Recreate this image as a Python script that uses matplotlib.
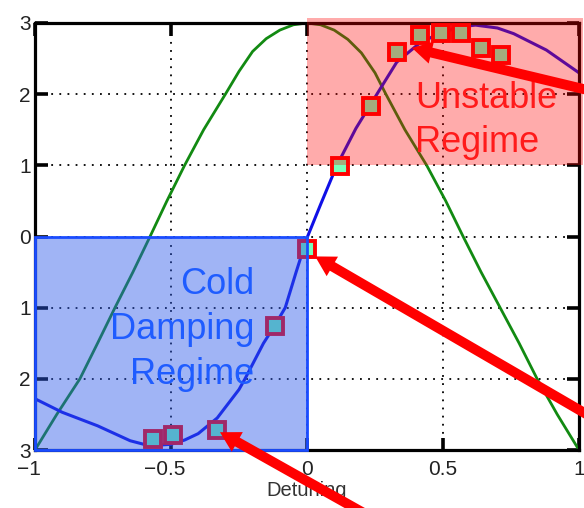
import matplotlib
matplotlib.use("Agg")
import matplotlib.pyplot as plt
from matplotlib.patches import Rectangle

plt.rcParams['font.family'] = ['Liberation Sans', 'DejaVu Sans']

# ---- data ----
green_x = [-1.0, -0.92, -0.835, -0.77, -0.706, -0.64, -0.577, -0.515, -0.45, -0.38,
           -0.3, -0.25, -0.2, -0.15, -0.1, -0.05, 0.0,
           0.05, 0.1, 0.15, 0.2, 0.25, 0.29, 0.36, 0.44, 0.51, 0.574, 0.64, 0.71,
           0.78, 0.846, 0.92, 1.0]
green_y = [-3.0, -2.5, -2.0, -1.5, -1.0, -0.5, 0.0, 0.5, 1.0, 1.5,
           2.0, 2.32, 2.6, 2.78, 2.9, 2.975, 3.0,
           2.975, 2.9, 2.77, 2.58, 2.3, 2.0, 1.5, 1.0, 0.5, 0.0, -0.5, -1.0,
           -1.5, -2.0, -2.5, -3.0]

blue_x = [-1.0, -0.9, -0.77, -0.65, -0.58, -0.5, -0.45, -0.4, -0.33, -0.25, -0.228,
          -0.16, -0.12, -0.08, -0.04, 0.0, 0.05, 0.11, 0.18, 0.257, 0.33, 0.415,
          0.49, 0.57, 0.62, 0.7, 0.76, 0.88, 1.0]
blue_y = [-2.28, -2.47, -2.66, -2.87, -2.94, -2.92, -2.86, -2.77, -2.55, -2.15, -2.0,
          -1.5, -1.26, -1.0, -0.5, -0.02, 0.45, 1.0, 1.52, 2.0, 2.45, 2.72,
          2.86, 2.95, 2.97, 2.93, 2.85, 2.62, 2.3]

meas_x = [-0.566, -0.493, -0.331, -0.118, 0.0, 0.12, 0.235, 0.331, 0.415, 0.493, 0.566, 0.64, 0.713]
meas_y = [-2.84, -2.79, -2.72, -1.26, -0.18, 0.99, 1.83, 2.59, 2.83, 2.86, 2.86, 2.65, 2.55]

xticks = [-1, -0.5, 0, 0.5, 1]
xtick_labels = ['\u22121\u2007', '\u22120.5\u2007', '0', '0.5', '1']
yticks = [-3, -2, -1, 0, 1, 2, 3]
ytick_labels = ['3', '2', '1', '0', '1', '2', '3']

# arrows: tip (data) and tail (figure pixels)
arrow_tips = [(0.386, 2.65), (0.03, -0.28), (-0.32, -2.75)]
arrow_tails = [(600, 415), (600, 86), (385, -17)]

# ---- figure ----
fig = plt.figure(figsize=(5.84, 5.08), dpi=100)
ax = fig.add_axes([35/584, 58/508, 544/584, 427/508])
ax.set_xlim(-1, 1)
ax.set_ylim(-3, 3)

ax.grid(True, color='black', linestyle=(0, (1, 3.5)), linewidth=1.3, zorder=0.5)
ax.set_axisbelow(True)

ax.plot(green_x, green_y, color='#128a12', lw=2.0, zorder=2)
ax.plot(blue_x, blue_y, color='#1010e6', lw=2.2, zorder=2.1)
ax.plot(meas_x, meas_y, linestyle='none', marker='s', markersize=11.5,
        markerfacecolor='#78ffbb', markeredgecolor='#ff0000', markeredgewidth=2.8, zorder=3)

for s in ax.spines.values():
    s.set_linewidth(2.3)
    s.set_zorder(2.5)

ax.set_xticks(xticks)
ax.set_xticklabels(xtick_labels)
ax.set_yticks(yticks)
ax.set_yticklabels(ytick_labels)
ax.tick_params(direction='in', length=9, width=2.6, top=True, right=True,
               labelsize=15, labelcolor='#222222', color='black')
ax.tick_params(axis='x', pad=7)
ax.tick_params(axis='y', pad=3)

ax.set_xlabel('Detuning', fontsize=14.5, color='#333333')
ax.xaxis.set_label_coords(0.5, -0.072)

# overlays
ax.add_patch(Rectangle((0, 1), 1.015, 2.07, facecolor=(1, 0, 0, 0.33),
                       edgecolor='none', zorder=4, clip_on=False))
ax.add_patch(Rectangle((-1, -3), 1, 3, facecolor=(44/255, 89/255, 233/255, 0.45),
                       edgecolor='#1a4cff', lw=2.0, zorder=4, clip_on=False))

# texts
ax.text(0.397, 1.81, 'Unstable', color='#ff1a1a', fontsize=26, ha='left', va='baseline', zorder=6)
ax.text(0.397, 1.19, 'Regime', color='#ff1a1a', fontsize=26, ha='left', va='baseline', zorder=6)
ax.text(-0.195, -0.81, 'Cold', color='#1f5cff', fontsize=26, ha='right', va='baseline', zorder=6)
ax.text(-0.195, -1.44, 'Damping', color='#1f5cff', fontsize=26, ha='right', va='baseline', zorder=6)
ax.text(-0.195, -2.07, 'Regime', color='#1f5cff', fontsize=26, ha='right', va='baseline', zorder=6)

for tip, tail in zip(arrow_tips, arrow_tails):
    ax.annotate('', xy=tip, xycoords='data', xytext=tail, textcoords='figure pixels',
                arrowprops=dict(arrowstyle='simple,head_length=1.1,head_width=1.25,tail_width=0.55',
                                mutation_scale=13, color='#ff0000', lw=0,
                                shrinkA=0, shrinkB=0),
                annotation_clip=False, zorder=7)

fig.savefig('out.png', dpi=100)
